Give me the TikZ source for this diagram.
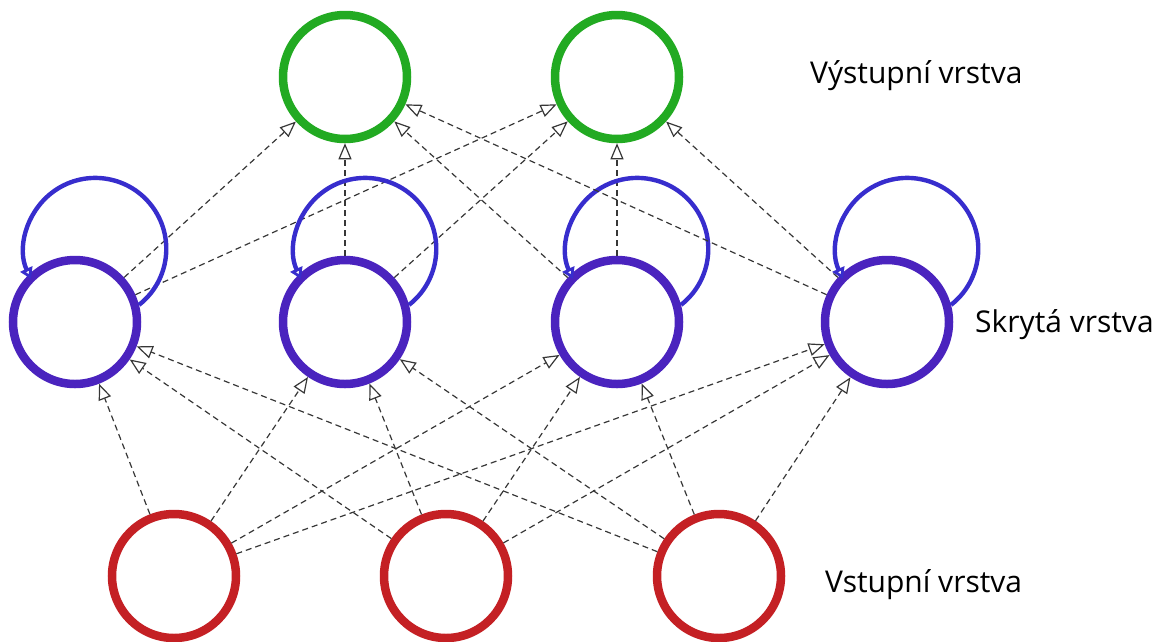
\documentclass[tikz,border=0pt]{standalone}
\usepackage{fontspec}
\setmainfont{Open Sans}
\usetikzlibrary{arrows.meta}
\definecolor{outc}{RGB}{34,170,34}
\definecolor{hidc}{RGB}{74,35,190}
\definecolor{inc}{RGB}{196,32,36}
\definecolor{loopc}{RGB}{55,45,205}
\definecolor{edgec}{RGB}{55,55,55}
\begin{document}
\begin{tikzpicture}[x=1pt,y=1pt,
  neuron/.style={circle, minimum size=124pt, inner sep=0pt, line width=8.5pt},
  outn/.style={neuron, draw=outc},
  hidn/.style={neuron, draw=hidc},
  inn/.style={neuron, draw=inc},
  conn/.style={draw=edgec, line width=1.2pt, dash pattern=on 6pt off 4pt, -{Triangle[open, length=16pt, width=13pt, fill=white]}},
  selfloop/.style={draw=loopc, line width=4.4pt, -{Triangle[open, length=11pt, width=13pt, fill=white]}},
  lbl/.style={anchor=base west, font=\fontsize{30}{36}\selectfont, text=black, inner sep=0pt}]
\useasboundingbox (0,0) rectangle (1171,-641);
\node[outn] (o1) at (345,-77) {};
\node[outn] (o2) at (617,-77) {};
\node[hidn] (h1) at (75,-322) {};
\node[hidn] (h2) at (345,-322) {};
\node[hidn] (h3) at (617,-322) {};
\node[hidn] (h4) at (887,-322) {};
\node[inn] (i1) at (174,-576) {};
\node[inn] (i2) at (446,-576) {};
\node[inn] (i3) at (719,-576) {};
\foreach \a in {i1,i2,i3}{
  \foreach \b in {h1,h2,h3,h4}{
    \draw[conn] (\a) -- (\b);
  }
}
\foreach \a in {h1,h2,h3,h4}{
  \foreach \b in {o1,o2}{
    \draw[conn] (\a) -- (\b);
  }
  \draw[selfloop] (\a.15) arc[start angle=-52, end angle=205, radius=71];
}
\node[lbl] (lo) at (810,-83) {Výstupní vrstva};
\node[lbl] (lh) at (975,-332) {Skrytá vrstva};
\node[lbl] (li) at (825,-592) {Vstupní vrstva};
\end{tikzpicture}
\end{document}
